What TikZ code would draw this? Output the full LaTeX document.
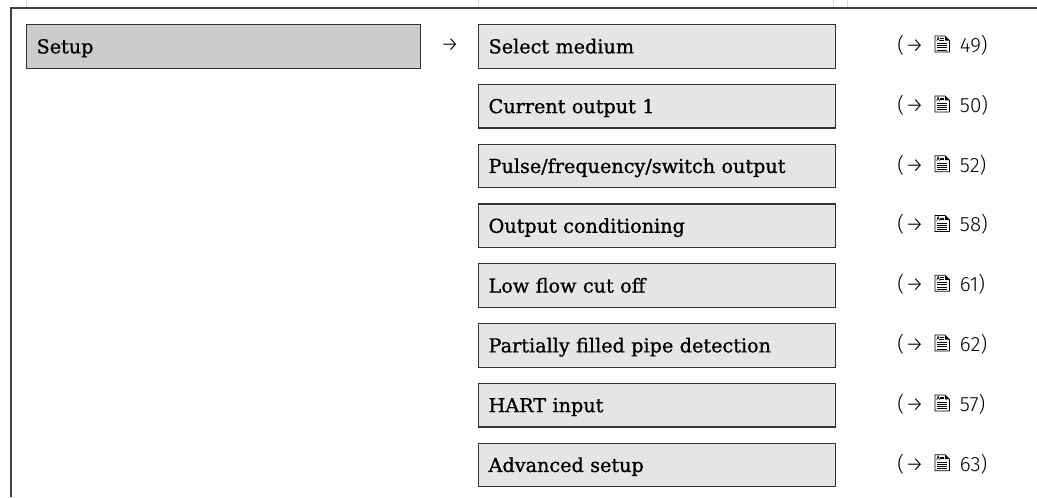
\documentclass[tikz,border=0pt]{standalone}
\usepackage{fontspec}
\setmainfont{DejaVu Serif}[BoldFont={DejaVu Serif},BoldFeatures={FakeBold=0.9}]
\newfontfamily\refsans{Fira Sans Light}
\newfontfamily\arrowfont{Fira Sans Light}
\newcommand{\docicon}{\tikz[baseline=-0.3pt,x=1pt,y=1pt,line width=0.55pt,line join=miter]{%
  \draw (0,0) -- (0,12) -- (7.6,12) -- (11,8.6) -- (11,0) -- cycle;
  \fill (7.6,12) -- (11,8.6) -- (7.6,8.6) -- cycle;
  \draw[line width=0.45pt] (1.3,8.2) -- (2.4,11.2) -- (3.5,8.2) (1.8,9.5) -- (3.0,9.5);
  \draw[line width=0.45pt] (4.1,10.2) -- (6.6,10.2) (4.1,9.2) -- (6.6,9.2);
  \foreach \yy in {1.7,3.3,4.9,6.5} \draw[line width=0.5pt] (1.6,\yy) -- (9.4,\yy);}}
\begin{document}
\begin{tikzpicture}[x=0.75pt,y=-0.75pt,
  framestyle/.style={draw=black!75,line width=1pt},
  tickstyle/.style={draw=black!15,line width=0.5pt},
  boxbase/.style={draw=black!80,line width=0.9pt,anchor=north west,
    minimum height=43.5*0.75pt,text height=10.5pt,text depth=0pt,
    inner xsep=10*0.75pt,inner ysep=0pt,align=left,font=\fontsize{14.4}{17}\selectfont\bfseries},
  mainbox/.style={boxbase,fill=black!20,minimum width=394*0.75pt,text width=374*0.75pt},
  subbox/.style={boxbase,fill=black!10,minimum width=357*0.75pt,text width=337*0.75pt},
  reftext/.style={anchor=base west,inner sep=0pt,font=\refsans\fontsize{15.5}{18}\selectfont},
  arrowtext/.style={inner sep=0pt,font=\arrowfont\fontsize{15.5}{18}\selectfont}]
\useasboundingbox (0,0) rectangle (1037,497);
% frame
\draw[framestyle] (11,497) -- (11,8) -- (1037,8);
\draw[tickstyle] (26,0) -- (26,7) (478,0) -- (478,7) (833,0) -- (833,7) (847,0) -- (847,7);
% main menu
\node[mainbox] (setup) at (26,24) {Setup};
\node[arrowtext] (arr) at (450,45.5) {→};
% submenus
\foreach \i/\name/\lab/\pg in {0/s0/Select medium/49, 1/s1/Current output 1/50,
  2/s2/Pulse\slash frequency\slash switch output/52, 3/s3/Output conditioning/58,
  4/s4/Low flow cut off/61, 5/s5/Partially filled pipe detection/62,
  6/s6/HART input/57, 7/s7/Advanced setup/63}{
  \node[subbox] (\name) at (478,24+59.8*\i) {\lab};
  \node[reftext] (r\name) at (897,52.5+59.8*\i) {(\kern1pt{\arrowfont→}\hspace{8pt}\docicon\hspace{7.5pt}\pg)};
}
\end{tikzpicture}
\end{document}
